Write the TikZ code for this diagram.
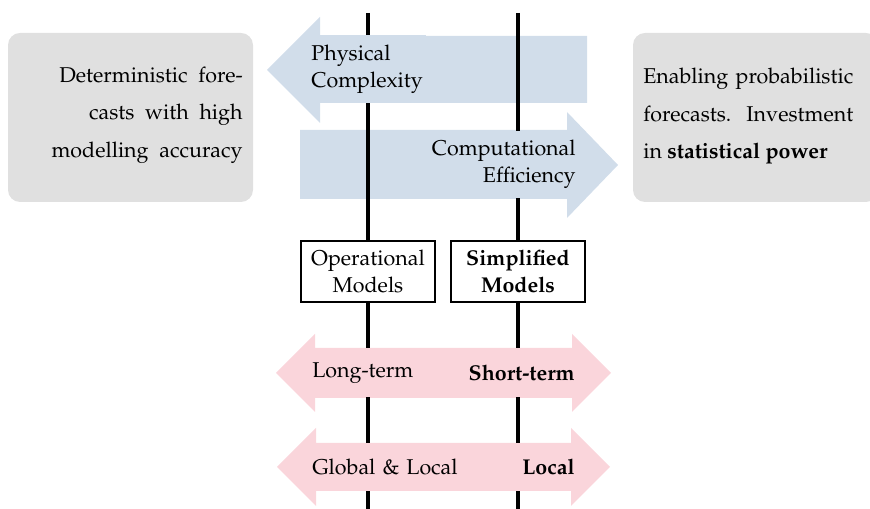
\documentclass[tikz,border=0pt]{standalone}
\usepackage[T1]{fontenc}
\usepackage{mathpazo}
\usetikzlibrary{positioning}
\definecolor{arrowblue}{RGB}{209,221,234}
\definecolor{arrowpink}{RGB}{250,213,219}
\definecolor{boxgray}{RGB}{224,224,224}

\begin{document}
\begin{tikzpicture}[x=0.02cm, y=-0.02cm,
        txt/.style={font=\fontsize{12.2}{15.3}\selectfont, inner sep=0pt},
        bluetxt/.style={txt, fill=arrowblue, minimum height=1.36cm},
        pinktxt/.style={txt, fill=arrowpink, minimum height=0.98cm},
        model/.style={txt, draw, fill=white, line width=1pt, minimum width=2.68cm, minimum height=1.22cm, align=center},
        sideinfo/.style={font=\fontsize{12.2}{21.3}\selectfont, inner sep=0pt},
        modelline/.style={line width=2.8pt}
    ]
        \useasboundingbox (0,0) rectangle (870,509);

        % Side boxes
        \fill[boxgray, rounded corners=0.24cm] (8,33) rectangle (253,202);
        \fill[boxgray, rounded corners=0.24cm] (633,33) rectangle (878,202);
        \node[sideinfo, anchor=east, align=right] (det_text) at (243,115)
            {Deterministic\ \ fore-\\casts\ \ with\ \ high\\modelling\ \ accuracy};
        \node[sideinfo, anchor=west, text width=4.2cm, align=justify] (prob_text) at (643,116)
            {\hyphenpenalty=10000 \hbadness=10000 \hfuzz=20pt Enabling probabilistic\linebreak forecasts. Investment\linebreak in \textbf{statistical power}};

        % Big arrows (blue)
        \fill[arrowblue] (587,36) -- (320,36) -- (320,17) -- (267,70) -- (320,123) -- (320,103) -- (587,103) -- cycle;
        \fill[arrowblue] (300,130) -- (567,130) -- (567,112) -- (618,165) -- (567,218) -- (567,199) -- (300,199) -- cycle;

        % Big arrows (pink)
        \fill[arrowpink] (315,348) -- (572,348) -- (572,334) -- (611,373) -- (572,412) -- (572,398)
            -- (315,398) -- (315,412) -- (276,373) -- (315,334) -- cycle;
        \fill[arrowpink] (316,443) -- (571,443) -- (571,428) -- (610,467) -- (571,506) -- (571,491)
            -- (316,491) -- (316,506) -- (277,467) -- (316,428) -- cycle;

        % Model lines
        \foreach \x/\n in {368/op, 518/simp} {
            \coordinate (\n_top) at (\x,13);
            \coordinate (\n_bot) at (\x,509);
            \draw[modelline] (\n_top) -- (\n_bot);
        }

        % Arrow labels
        \node[bluetxt, anchor=west, text width=2.3cm, align=left] (phys_label) at (311,69.5) {Physical\\Complexity};
        \node[bluetxt, anchor=east, text width=3cm, align=right] (comp_label) at (576,164.5) {Computational\\Efficiency};
        \node[pinktxt, anchor=west, text width=2.4cm, align=left] (long_label) at (312,373) {Long-term};
        \node[pinktxt, anchor=east, text width=2.4cm, align=right] (short_label) at (575,373) {\textbf{Short-term}};
        \node[pinktxt, anchor=west, text width=3.2cm, align=left] (glob_label) at (312,467) {Global \& Local};
        \node[pinktxt, anchor=east, text width=1.8cm, align=right] (local_label) at (575,467) {\textbf{Local}};

        % Models
        \node[model] (op_model) at (368,271.5) {Operational\\Models};
        \node[model] (simp_model) at (518,271.5) {\textbf{Simplified}\\\textbf{Models}};
    \end{tikzpicture}
\end{document}
